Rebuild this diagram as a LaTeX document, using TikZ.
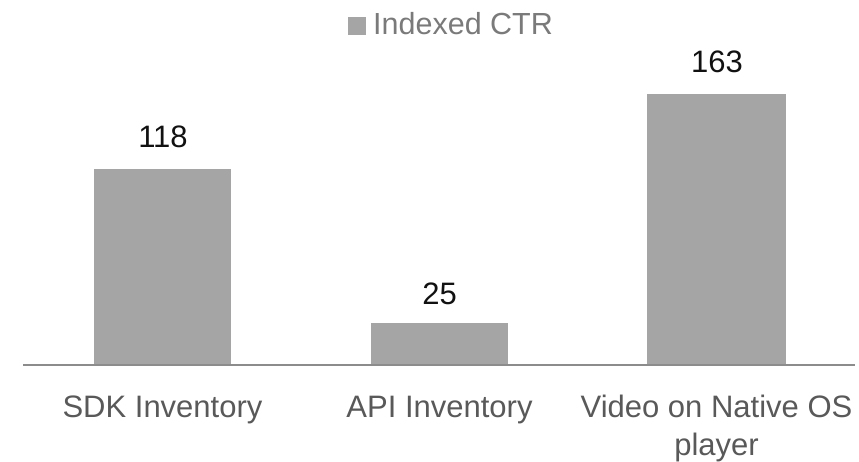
\documentclass[tikz,border=0pt]{standalone}
\usepackage{fontspec}
\setmainfont{Liberation Sans}
\definecolor{barfill}{HTML}{A5A5A5}
\definecolor{axisgray}{HTML}{8C8C8C}
\definecolor{labelgray}{HTML}{595959}
\definecolor{legendgray}{HTML}{7A7A7A}
\definecolor{valuecol}{HTML}{111111}
\begin{document}
\begin{tikzpicture}[x=1pt,y=-1pt,
  bar/.style={fill=barfill,draw=none},
  value/.style={anchor=base,text=valuecol,inner sep=0pt,font=\fontsize{31}{36}\selectfont},
  catlabel/.style={anchor=base,text=labelgray,inner sep=0pt,align=center,font=\fontsize{31}{38}\selectfont},
  legendtext/.style={anchor=base west,text=legendgray,inner sep=0pt,font=\fontsize{30.5}{36}\selectfont}]
  \useasboundingbox (0,0) rectangle (859,462);
  % bars (1 unit of value = 1.645 px, baseline at y=364)
  \fill[bar] (94,364) rectangle (231,169);
  \fill[bar] (371,364) rectangle (508,323);
  \fill[bar] (647,364) rectangle (786,94);
  % horizontal axis
  \coordinate (axl) at (23,365);
  \coordinate (axr) at (855,365);
  \draw[axisgray,line width=2pt] (axl) -- (axr);
  % value labels
  \node[value] (v1) at (163,148) {118};
  \node[value] (v2) at (439.5,304) {25};
  \node[value] (v3) at (717,73) {163};
  % category labels
  \node[catlabel] (c1) at (162.5,417) {SDK Inventory};
  \node[catlabel] (c2) at (439.5,417) {API Inventory};
  \node[catlabel] (c3) at (716.5,417) {Video on Native OS};
  \node[catlabel] (c3b) at (716.5,455) {player};
  % legend
  \fill[barfill] (348,17) rectangle (366,35);
  \node[legendtext] (leg) at (373,35) {Indexed CTR};
\end{tikzpicture}
\end{document}
